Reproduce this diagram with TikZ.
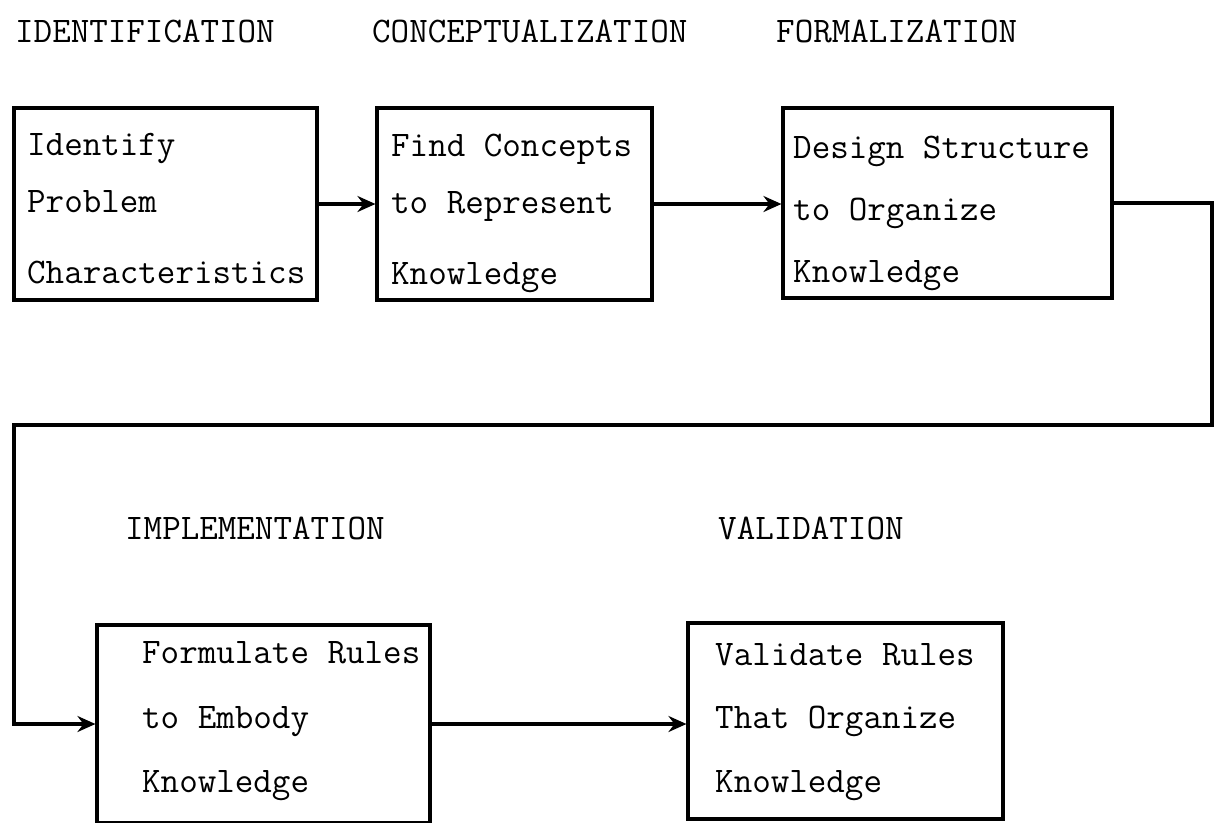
\documentclass[tikz,border=0pt]{standalone}
\usetikzlibrary{arrows.meta}
\newcommand{\tstrut}{\vrule height 25pt depth 0pt width 0pt}
\begin{document}
\begin{tikzpicture}[x=1pt,y=-1pt,
  box/.style={draw, line width=3.1pt, rectangle, inner sep=0pt},
  txt/.style={font=\ttfamily\fontsize{36}{62}\selectfont, align=left, inner sep=0pt, anchor=north west},
  lbl/.style={font=\ttfamily\fontsize{36}{40}\selectfont, inner sep=0pt, anchor=base west},
  conn/.style={line width=3.1pt},
  arr/.style={conn, -{Stealth[length=18pt,width=16pt,inset=6pt]}}]
\useasboundingbox (0,0) rectangle (1220,822);
\fill[white] (0,0) rectangle (1220,822);
\clip (0,0) rectangle (1220,822);

% headers
\node[lbl] (h1) at (15,42) {IDENTIFICATION};
\node[lbl] (h2) at (372,42) {CONCEPTUALIZATION};
\node[lbl] (h3) at (776,42) {FORMALIZATION};
\node[lbl] (h4) at (125,539) {IMPLEMENTATION};
\node[lbl] (h5) at (718,539) {VALIDATION};

% boxes
\node[box, minimum width=303pt, minimum height=192pt] (b1) at (165.5,204) {};
\node[box, minimum width=275pt, minimum height=192pt] (b2) at (514.5,204) {};
\node[box, minimum width=329pt, minimum height=190pt] (b3) at (947.5,203) {};
\node[box, minimum width=333pt, minimum height=198pt] (b4) at (263.5,724) {};
\node[box, minimum width=315pt, minimum height=196pt] (b5) at (845.5,721) {};

% box texts
\node[txt] (t1) at (27,130) {\tstrut Identify\\[-5pt]Problem\\[9pt]Characteristics};
\node[txt] (t2) at (391,131) {\tstrut Find Concepts\\[-5pt]to Represent\\[9pt]Knowledge};
\node[txt] (t3) at (793,133) {\tstrut Design Structure\\to Organize\\Knowledge};
\node[txt] (t4) at (142,638) {\tstrut Formulate Rules\\[3pt]to Embody\\[2pt]Knowledge};
\node[txt] (t5) at (715,640) {\tstrut Validate Rules\\[1pt]That Organize\\[2pt]Knowledge};

% connectors
\coordinate (c1) at (1212,425);
\coordinate (c2) at (14,425);
\draw[arr] (b1.east) -- (b2.west);
\draw[arr] (b2.east) -- (b2.east -| b3.west);
\draw[arr] (b3.east) -| (c1) -- (c2) |- (b4.west);
\draw[arr] (b4.east) -- (b4.east -| b5.west);
\end{tikzpicture}
\end{document}
